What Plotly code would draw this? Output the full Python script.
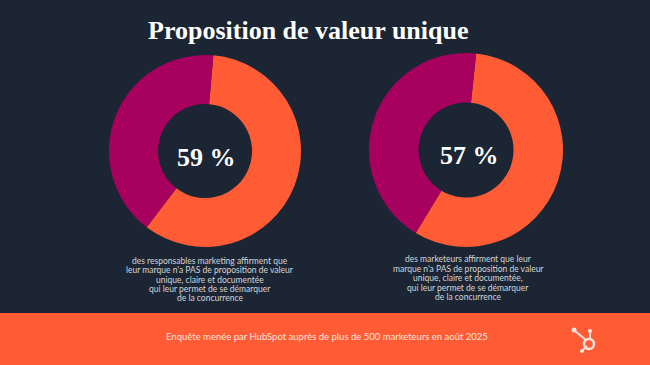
import plotly.graph_objects as go

W, H = 650, 365
BG = "#1b2533"
ORANGE = "#ff5c35"
MAGENTA = "#a8005e"

title = "Proposition de valeur unique"
labels = ["Oui", "Non"]
left_values = [59, 41]
right_values = [57, 43]
left_center_text = "59 %"
right_center_text = "57 %"
left_caption = [
    "des responsables marketing affirment que",
    "leur marque n'a PAS de proposition de valeur",
    "unique, claire et documentée",
    "qui leur permet de se démarquer",
    "de la concurrence",
]
right_caption = [
    "des marketeurs affirment que leur",
    "marque n'a PAS de proposition de valeur",
    "unique, claire et documentée,",
    "qui leur permet de se démarquer",
    "de la concurrence",
]
footer = "Enquête menée par HubSpot auprès de plus de 500 marketeurs en août 2025"


def dom(cx, cy, r):
    return dict(x=[(cx - r) / W, (cx + r) / W], y=[1 - (cy + r) / H, 1 - (cy - r) / H])


fig = go.Figure()
for vals, (cx, cy, r), rot in [(left_values, (205, 151, 96), 5), (right_values, (466, 150, 97), 6)]:
    fig.add_trace(go.Pie(
        labels=labels, values=vals, hole=0.49, sort=False, direction="clockwise",
        rotation=rot, marker=dict(colors=[ORANGE, MAGENTA], line=dict(width=0)),
        textinfo="none", hoverinfo="skip", showlegend=False, domain=dom(cx, cy, r),
    ))

ann = []
ann.append(dict(x=308, y=30, text=f"<b>{title}</b>", showarrow=False,
                font=dict(family="Liberation Serif", size=26, color="#ffffff")))
ann.append(dict(x=206, y=157, text=f"<b>{left_center_text}</b>", showarrow=False,
                font=dict(family="Liberation Serif", size=26, color="#ffffff")))
ann.append(dict(x=469, y=155, text=f"<b>{right_center_text}</b>", showarrow=False,
                font=dict(family="Liberation Serif", size=26, color="#ffffff")))
for i, line in enumerate(left_caption):
    ann.append(dict(x=210, y=261 + i * 9.3, text=line, showarrow=False,
                    font=dict(family="Lato", size=8.5, color="#d3d6da")))
for i, line in enumerate(right_caption):
    ann.append(dict(x=468, y=259 + i * 9.5, text=line, showarrow=False,
                    font=dict(family="Lato", size=8.5, color="#d3d6da")))
ann.append(dict(x=327, y=336, text=footer, showarrow=False,
                font=dict(family="Lato", size=9.5, color="#fde3dc")))
for a in ann:
    a.update(xref="x", yref="y")

LOGO = "#fde3dc"
shapes = [
    dict(type="rect", x0=0, x1=W, y0=313, y1=H, fillcolor=ORANGE, line=dict(width=0), layer="below"),
    dict(type="line", x0=575, y0=331, x1=586, y1=340, line=dict(color=LOGO, width=2)),
    dict(type="line", x0=590, y0=331, x1=590, y1=338, line=dict(color=LOGO, width=2)),
    dict(type="line", x0=583, y0=350, x1=587, y1=346, line=dict(color=LOGO, width=2)),
    dict(type="circle", x0=584, x1=594, y0=339, y1=349, line=dict(color=LOGO, width=2.5)),
    dict(type="circle", x0=571.5, x1=576.5, y0=327.5, y1=332.5, fillcolor=LOGO, line=dict(width=0)),
    dict(type="circle", x0=588, x1=592, y0=329, y1=333, fillcolor=LOGO, line=dict(width=0)),
    dict(type="circle", x0=580, x1=584, y0=349, y1=353, fillcolor=LOGO, line=dict(width=0)),
]

fig.update_layout(
    width=W, height=H, margin=dict(l=0, r=0, t=0, b=0),
    paper_bgcolor=BG, plot_bgcolor=BG,
    xaxis=dict(range=[0, W], visible=False, fixedrange=True),
    yaxis=dict(range=[H, 0], visible=False, fixedrange=True),
    annotations=ann, shapes=shapes, showlegend=False,
)
fig.write_html(
    "out.html",
    config={"displayModeBar": False},
    post_script="document.body.style.margin='0';document.body.style.overflow='hidden';",
)
